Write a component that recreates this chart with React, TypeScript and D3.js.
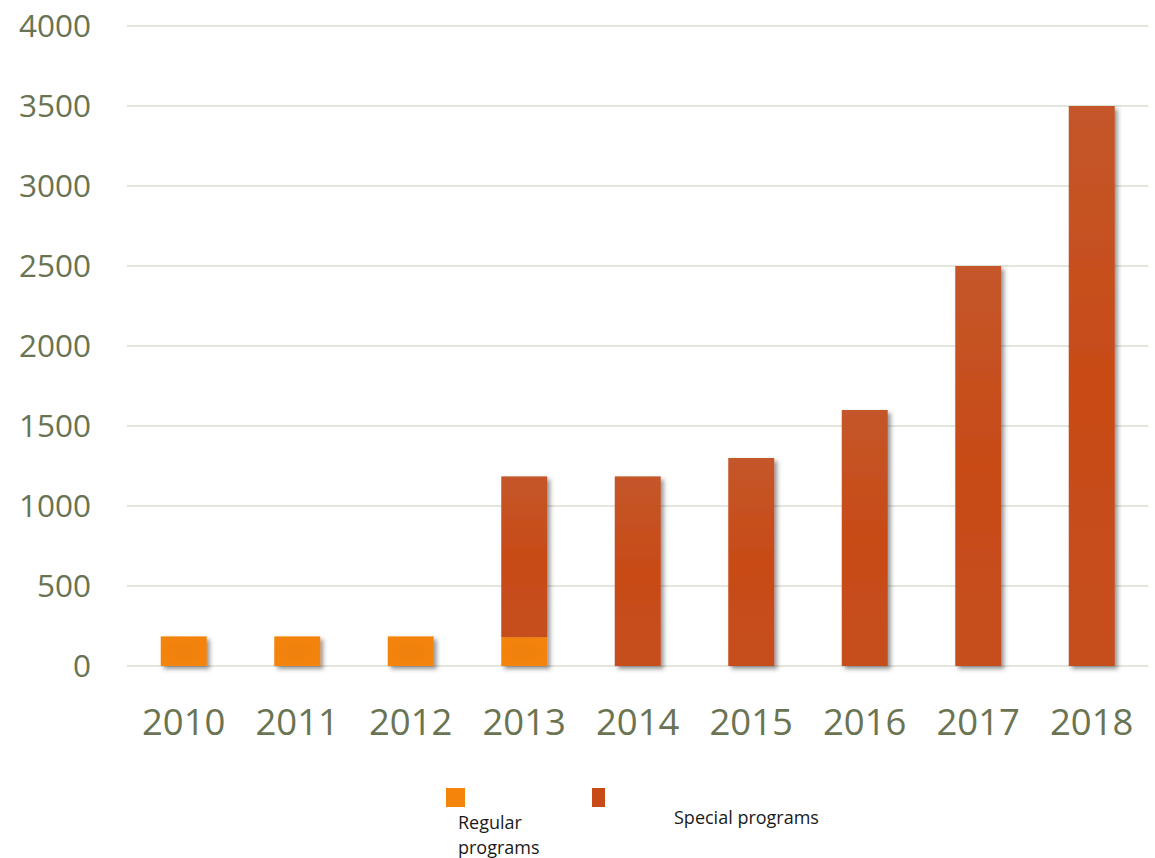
import React from "react";
import * as d3 from "d3";

const years = ["2010", "2011", "2012", "2013", "2014", "2015", "2016", "2017", "2018"];
const regular = [185, 185, 185, 180, 0, 0, 0, 0, 0];
const special = [0, 0, 0, 1005, 1185, 1300, 1600, 2500, 3500];
const yTicks = [0, 500, 1000, 1500, 2000, 2500, 3000, 3500, 4000];
const legendLabels = ["Regular programs", "Special programs"];

const W = 1155;
const H = 858;
const left = 127;
const right = 1148.5;
const top = 26;
const bottom = 666;

export default function App() {
  const x = d3.scaleBand<string>().domain(years).range([left, right]).paddingInner(0.595).paddingOuter(0.2975);
  const y = d3.scaleLinear().domain([0, 4000]).range([bottom, top]);
  const bw = x.bandwidth();
  const axisColor = "#6a7352";
  const font = "'Open Sans', sans-serif";

  return (
    <svg width={W} height={H} style={{ position: "absolute", left: 0, top: 0, background: "#fff" }}>
      <defs>
        <filter id="sh" x="-20%" y="-20%" width="160%" height="160%">
          <feDropShadow dx="3" dy="3" stdDeviation="2.2" floodColor="#333" floodOpacity="0.5" />
        </filter>
        <linearGradient id="sp" x1="0" y1="0" x2="0" y2="1">
          <stop offset="0" stopColor="#c4562a" />
          <stop offset="0.5" stopColor="#c84b17" />
          <stop offset="1" stopColor="#c64e1e" />
        </linearGradient>
        <radialGradient id="rg" cx="0.5" cy="0.5" r="0.6">
          <stop offset="0" stopColor="#ef8008" />
          <stop offset="1" stopColor="#f5840a" />
        </radialGradient>
      </defs>
      {yTicks.map((t) => (
        <g key={t}>
          <line x1={left} x2={right} y1={y(t)} y2={y(t)} stroke="#e4e5dc" strokeWidth={2} />
          <text x={91} y={y(t)} dy="0.36em" textAnchor="end" fontFamily={font} fontSize={31.5} fill={axisColor}>
            {t}
          </text>
        </g>
      ))}
      {years.map((yr, i) => {
        const x0 = x(yr)!;
        const items = [] as React.ReactNode[];
        const total = regular[i] + special[i];
        if (total > 0) {
          items.push(
            <g key="bar" filter="url(#sh)">
              {regular[i] > 0 && (
                <rect x={x0} width={bw} y={y(regular[i])} height={y(0) - y(regular[i])} fill="url(#rg)" />
              )}
              {special[i] > 0 && (
                <rect x={x0} width={bw} y={y(total)} height={y(regular[i]) - y(total)} fill="url(#sp)" />
              )}
            </g>
          );
        }
        return (
          <g key={yr}>
            {items}
            <text x={x0 + bw / 2} y={735} textAnchor="middle" fontFamily={font} fontSize={36.5} fill={axisColor}>
              {yr}
            </text>
          </g>
        );
      })}
      <g fontFamily={font} fontSize={18} fill="#1a1a1a">
        <rect x={446} y={788} width={19} height={19} fill="#f4840a" />
        <text x={458} y={829}>Regular</text>
        <text x={458} y={854}>programs</text>
        <rect x={592} y={788} width={13} height={19} fill="#c84b17" />
        <text x={674} y={824}>{legendLabels[1]}</text>
      </g>
    </svg>
  );
}
